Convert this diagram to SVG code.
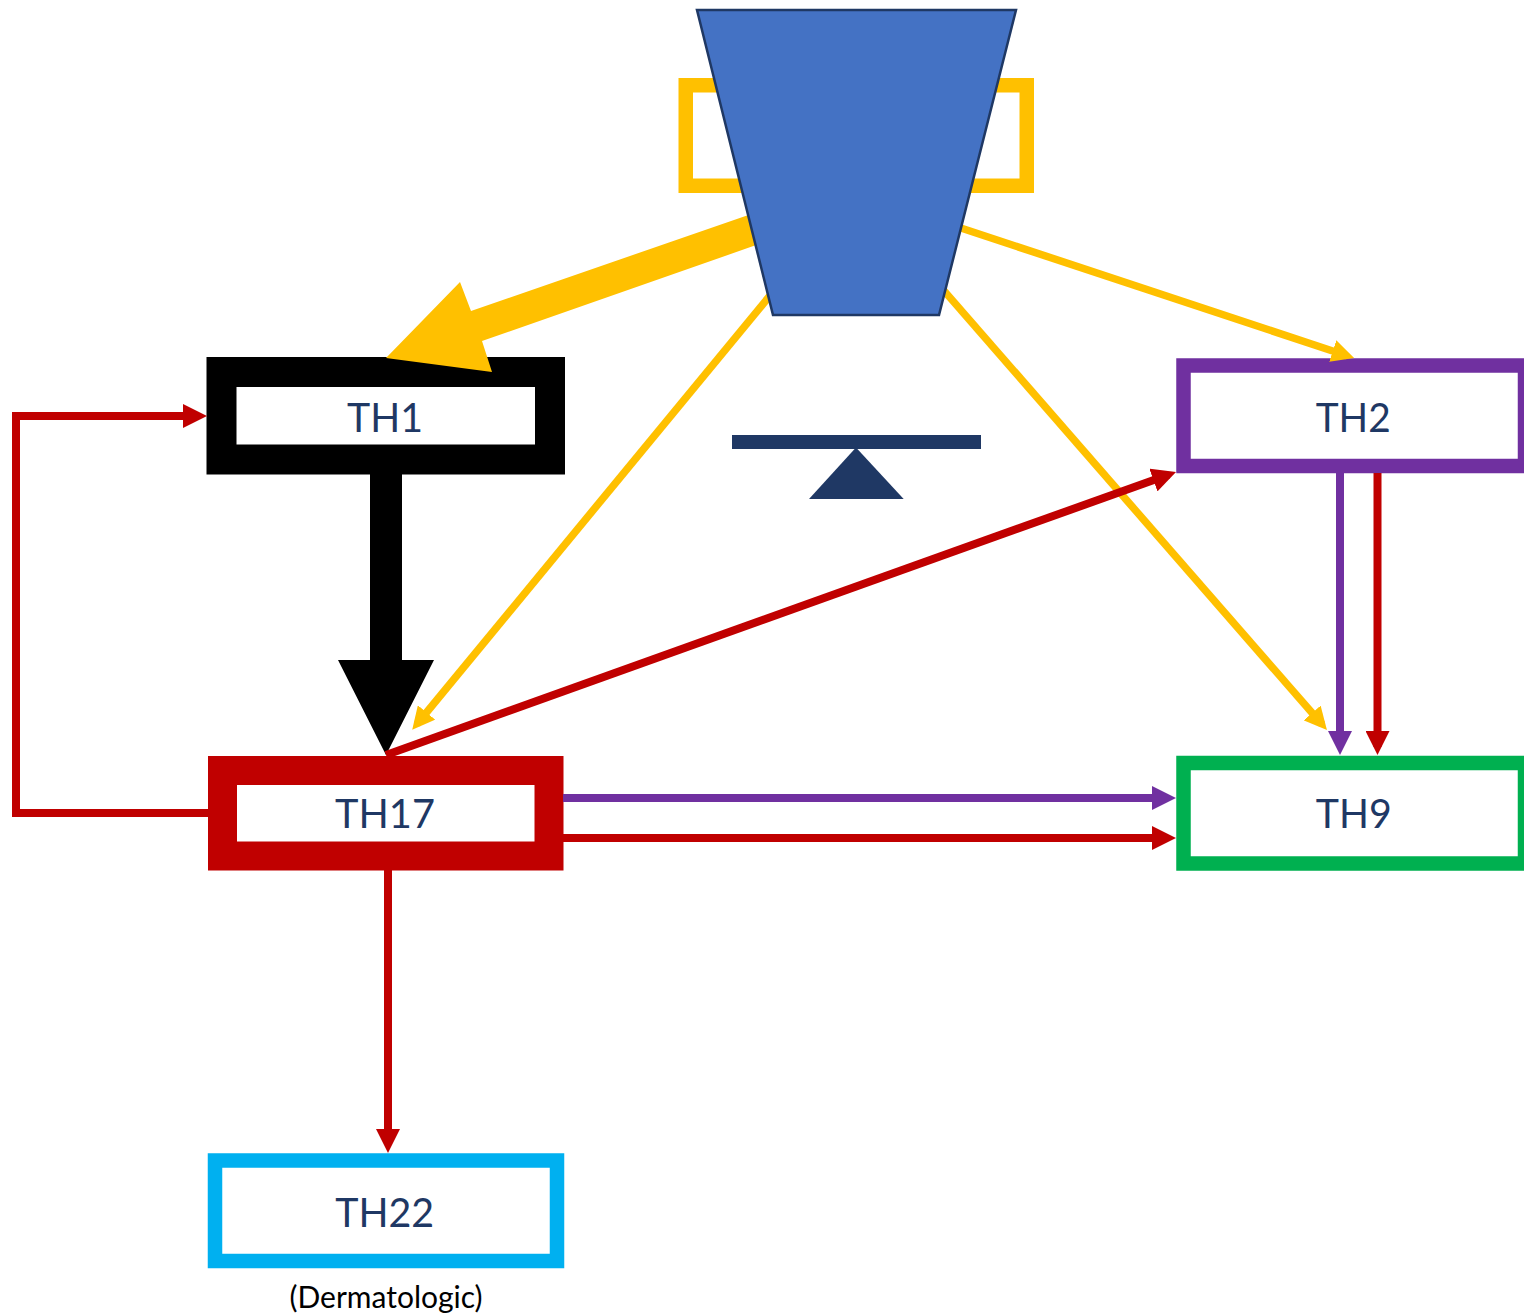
<svg xmlns="http://www.w3.org/2000/svg" width="1524" height="1316" viewBox="0 0 1524 1316">
<style>
.box{fill:#fff}
.lbl{font-family:"Lato","Open Sans",sans-serif;font-size:41px;fill:#1F3864;text-anchor:middle}
.ln{fill:none;stroke-miterlimit:10}
.g{stroke:#FFC000;stroke-width:7.500;marker-end:url(#ag)}
.r{stroke:#C00000;stroke-width:8;marker-end:url(#ar)}
.p{stroke:#7030A0;stroke-width:8;marker-end:url(#ap)}
</style>
<defs>
<marker id="ag" markerWidth="3" markerHeight="3" refX="2" refY="1.5" orient="auto" markerUnits="strokeWidth"><path d="M0 0L3 1.5L0 3z" fill="#FFC000"/></marker>
<marker id="ar" markerWidth="3" markerHeight="3" refX="2" refY="1.5" orient="auto" markerUnits="strokeWidth"><path d="M0 0L3 1.5L0 3z" fill="#C00000"/></marker>
<marker id="ap" markerWidth="3" markerHeight="3" refX="2" refY="1.5" orient="auto" markerUnits="strokeWidth"><path d="M0 0L3 1.5L0 3z" fill="#7030A0"/></marker>
</defs>
<rect width="1524" height="1316" fill="#fff"/>
<g id="node-gold-box"><rect x="685.750" y="85.250" width="341" height="100.500" fill="#fff" stroke="#FFC000" stroke-width="14.500"/></g>
<g id="node-balance"><rect x="732" y="435" width="249" height="14" fill="#1F3864"/><path d="M856 447.500L903.700 499H809z" fill="#1F3864"/></g>
<g id="node-th1"><rect class="box" x="221.500" y="372" width="328.500" height="87.500" stroke="#000" stroke-width="30"/><text class="lbl" x="385" y="432" textLength="76" lengthAdjust="spacingAndGlyphs">TH1</text></g>
<g id="node-th2"><rect class="box" x="1183.500" y="365.500" width="341.500" height="100.500" stroke="#7030A0" stroke-width="14.500"/><text class="lbl" x="1353.200" y="432" textLength="75" lengthAdjust="spacingAndGlyphs">TH2</text></g>
<g id="node-th17"><rect class="box" x="222.500" y="770.500" width="326.500" height="85.500" stroke="#C00000" stroke-width="29"/><text class="lbl" x="385" y="828" textLength="100" lengthAdjust="spacingAndGlyphs">TH17</text></g>
<g id="node-th9"><rect class="box" x="1183.500" y="763" width="341.500" height="100.500" stroke="#00B050" stroke-width="14.500"/><text class="lbl" x="1353.700" y="828" textLength="76" lengthAdjust="spacingAndGlyphs">TH9</text></g>
<g id="node-th22"><rect class="box" x="215" y="1160.500" width="342" height="100.500" stroke="#00B0F0" stroke-width="14.500"/><text class="lbl" x="384.700" y="1227" textLength="99" lengthAdjust="spacingAndGlyphs">TH22</text>
<text x="386" y="1307.500" font-family="Lato,'Open Sans',sans-serif" font-size="30" fill="#000" text-anchor="middle">(Dermatologic)</text></g>
<g id="connectors">
<path class="ln g" d="M945 222.700L1347 355.700"/>
<path class="ln g" d="M935 280.400L1322 724.300"/>
<path class="ln g" d="M780 283.400L417 724"/>
<path d="M760 211L471 311L460 282L386 358L492 372L482 341L765 242z" fill="#FFC000"/>
<path d="M370 474H402V660H434L386 755L338 660H370z" fill="#000"/>
<path class="ln r" d="M386 755L1168.500 474.700"/>
<path class="ln r" d="M208 813H16V416H199"/>
<path class="ln r" d="M563 838H1168"/>
<path class="ln r" d="M388 870V1145"/>
<path class="ln r" d="M1377.500 473V747"/>
<path class="ln p" d="M563 798H1168"/>
<path class="ln p" d="M1340 473V747"/>
</g>
<g id="node-top"><path d="M697 10H1016L939 315H773z" fill="#4472C4" stroke="#1F3864" stroke-width="2.500" stroke-linejoin="miter"/></g>
</svg>
